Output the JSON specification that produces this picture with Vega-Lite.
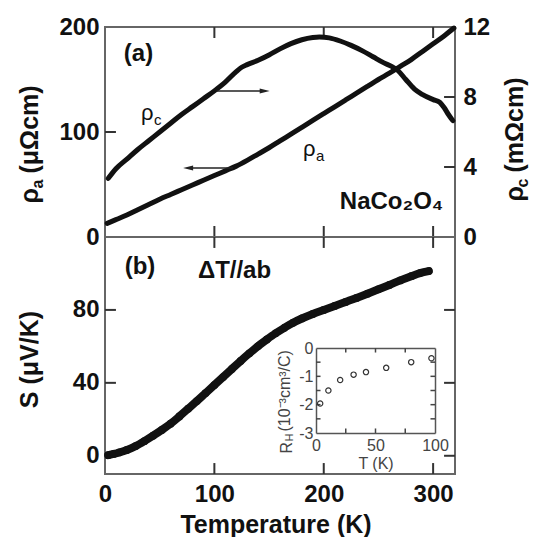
{
  "$schema": "https://vega.github.io/schema/vega-lite/v6.json",
  "background": "white",
  "padding": {"left": 15, "top": 14, "right": 0, "bottom": 0},
  "spacing": 0,
  "bounds": "flush",
  "datasets": {
    "rhoA": [
      {"T": 2, "rho_a": 13}, {"T": 10, "rho_a": 16.5}, {"T": 20, "rho_a": 21}, {"T": 30, "rho_a": 26},
      {"T": 40, "rho_a": 31}, {"T": 50, "rho_a": 36}, {"T": 60, "rho_a": 40.5}, {"T": 70, "rho_a": 45},
      {"T": 80, "rho_a": 49.5}, {"T": 90, "rho_a": 54}, {"T": 100, "rho_a": 58.5}, {"T": 110, "rho_a": 63},
      {"T": 120, "rho_a": 67.5}, {"T": 130, "rho_a": 73}, {"T": 140, "rho_a": 79}, {"T": 150, "rho_a": 85},
      {"T": 160, "rho_a": 91.5}, {"T": 170, "rho_a": 98}, {"T": 180, "rho_a": 104.5}, {"T": 190, "rho_a": 111},
      {"T": 200, "rho_a": 117.5}, {"T": 210, "rho_a": 124}, {"T": 220, "rho_a": 130.5}, {"T": 230, "rho_a": 137},
      {"T": 240, "rho_a": 143.5}, {"T": 250, "rho_a": 150}, {"T": 260, "rho_a": 156}, {"T": 270, "rho_a": 162.5},
      {"T": 280, "rho_a": 169}, {"T": 290, "rho_a": 176.5}, {"T": 300, "rho_a": 184}, {"T": 310, "rho_a": 191.5},
      {"T": 319, "rho_a": 199}
    ],
    "rhoC": [
      {"T": 3, "rho_c": 3.35}, {"T": 10, "rho_c": 3.9}, {"T": 20, "rho_c": 4.45}, {"T": 30, "rho_c": 5.0},
      {"T": 40, "rho_c": 5.5}, {"T": 50, "rho_c": 6.0}, {"T": 60, "rho_c": 6.5}, {"T": 70, "rho_c": 7.0},
      {"T": 80, "rho_c": 7.45}, {"T": 90, "rho_c": 7.9}, {"T": 100, "rho_c": 8.35}, {"T": 110, "rho_c": 8.85},
      {"T": 120, "rho_c": 9.45}, {"T": 125, "rho_c": 9.7}, {"T": 130, "rho_c": 9.85}, {"T": 140, "rho_c": 10.1},
      {"T": 150, "rho_c": 10.4}, {"T": 160, "rho_c": 10.75}, {"T": 170, "rho_c": 11.05}, {"T": 180, "rho_c": 11.27},
      {"T": 190, "rho_c": 11.4}, {"T": 196, "rho_c": 11.43}, {"T": 205, "rho_c": 11.38}, {"T": 215, "rho_c": 11.2},
      {"T": 225, "rho_c": 10.95}, {"T": 235, "rho_c": 10.65}, {"T": 245, "rho_c": 10.3}, {"T": 255, "rho_c": 9.95},
      {"T": 262, "rho_c": 9.75}, {"T": 268, "rho_c": 9.5}, {"T": 275, "rho_c": 9.0}, {"T": 283, "rho_c": 8.45},
      {"T": 290, "rho_c": 8.15}, {"T": 300, "rho_c": 7.85}, {"T": 306, "rho_c": 7.7}, {"T": 310, "rho_c": 7.4},
      {"T": 314, "rho_c": 7.0}, {"T": 318, "rho_c": 6.65}
    ],
    "seebeck": [
      {"T": 3, "S": 0.3}, {"T": 8, "S": 1.0}, {"T": 13, "S": 1.8}, {"T": 20, "S": 3.2}, {"T": 28, "S": 5.3},
      {"T": 36, "S": 8.0}, {"T": 44, "S": 11.0}, {"T": 52, "S": 14.2}, {"T": 60, "S": 17.6}, {"T": 68, "S": 21.6},
      {"T": 76, "S": 25.8}, {"T": 84, "S": 30.0}, {"T": 92, "S": 34.4}, {"T": 100, "S": 38.8}, {"T": 108, "S": 43.2},
      {"T": 116, "S": 47.6}, {"T": 124, "S": 52}, {"T": 132, "S": 56.2}, {"T": 140, "S": 60.2}, {"T": 148, "S": 63.8},
      {"T": 156, "S": 67.2}, {"T": 164, "S": 70.2}, {"T": 172, "S": 73}, {"T": 180, "S": 75.3}, {"T": 190, "S": 77.8},
      {"T": 200, "S": 80}, {"T": 210, "S": 82.2}, {"T": 220, "S": 84.4}, {"T": 230, "S": 86.6}, {"T": 240, "S": 88.9},
      {"T": 250, "S": 91.3}, {"T": 260, "S": 93.7}, {"T": 270, "S": 96.2}, {"T": 280, "S": 98.5}, {"T": 288, "S": 100.2},
      {"T": 296, "S": 101.3}
    ],
    "hall": [
      {"T": 3.5, "RH": -1.96}, {"T": 10.4, "RH": -1.5}, {"T": 20.3, "RH": -1.13}, {"T": 31.6, "RH": -0.94},
      {"T": 42, "RH": -0.85}, {"T": 59, "RH": -0.7}, {"T": 80, "RH": -0.5}, {"T": 97, "RH": -0.36}
    ],
    "arrows": [
      {"curve": "rho_c", "T0": 102, "T1": 146, "v": 139, "dir": "right"},
      {"curve": "rho_a", "T0": 117, "T1": 76, "v": 65.7, "dir": "left"}
    ],
    "curveLabels": [
      {"T": 33, "v": 111.9, "sym": "ρ", "sub": "c"},
      {"T": 181, "v": 77.6, "sym": "ρ", "sub": "a"}
    ],
    "notesA": [
      {"T": 30.6, "v": 167.6, "note": "(a)"},
      {"T": 262, "v": 26.2, "note": "NaCo₂O₄"}
    ],
    "notesB": [
      {"T": 32, "S": 103.6, "note": "(b)"},
      {"T": 118.4, "S": 101.4, "note": "ΔT//ab"}
    ],
    "tempTicks": [{"T": 100}, {"T": 200}, {"T": 300}],
    "rhoATicks": [{"v": 100}],
    "rhoCTicks": [{"v": 4}, {"v": 8}],
    "sTicks": [{"S": 0}, {"S": 40}, {"S": 80}],
    "insetTTicks": [{"T": 25}, {"T": 50}, {"T": 75}],
    "insetRTicks": [{"RH": -2.5}, {"RH": -2}, {"RH": -1.5}, {"RH": -1}, {"RH": -0.5}]
  },
  "vconcat": [
    {
      "width": 350,
      "height": 210,
      "resolve": {"scale": {"x": "independent", "y": "independent"}, "axis": {"x": "independent", "y": "independent"}},
      "layer": [
        {
          "data": {"name": "tempTicks"},
          "mark": {"type": "rule", "color": "#333", "strokeWidth": 2},
          "encoding": {
            "x": {"field": "T", "type": "quantitative", "scale": {"domain": [0, 320]}, "axis": null},
            "y": {"datum": 0, "type": "quantitative", "scale": {"domain": [0, 200]}, "axis": null},
            "y2": {"datum": 10.5}
          }
        },
        {
          "data": {"name": "tempTicks"},
          "mark": {"type": "rule", "color": "#333", "strokeWidth": 2},
          "encoding": {
            "x": {"field": "T", "type": "quantitative", "scale": {"domain": [0, 320]}, "axis": null},
            "y": {"datum": 200, "type": "quantitative", "scale": {"domain": [0, 200]}, "axis": null},
            "y2": {"datum": 189.5}
          }
        },
        {
          "data": {"name": "rhoATicks"},
          "mark": {"type": "rule", "color": "#333", "strokeWidth": 2},
          "encoding": {
            "x": {"datum": 0, "type": "quantitative", "scale": {"domain": [0, 320]}, "axis": null},
            "x2": {"datum": 10},
            "y": {"field": "v", "type": "quantitative", "scale": {"domain": [0, 200]}, "axis": null}
          }
        },
        {
          "data": {"name": "rhoCTicks"},
          "mark": {"type": "rule", "color": "#333", "strokeWidth": 2},
          "encoding": {
            "x": {"datum": 320, "type": "quantitative", "scale": {"domain": [0, 320]}, "axis": null},
            "x2": {"datum": 310},
            "y": {"field": "v", "type": "quantitative", "scale": {"domain": [0, 12]}, "axis": null}
          }
        },
        {
          "data": {"name": "rhoA"},
          "mark": {"type": "line", "color": "#111", "strokeWidth": 5, "interpolate": "monotone", "strokeCap": "round"},
          "encoding": {
            "x": {"field": "T", "type": "quantitative", "scale": {"domain": [0, 320]}, "axis": null},
            "y": {"field": "rho_a", "type": "quantitative", "scale": {"domain": [0, 200]},
                  "axis": {"orient": "left", "values": [0, 100, 200], "labelPadding": 6,
                           "title": "(μΩcm)", "titleAngle": -90, "titleAlign": "left", "titleBaseline": "alphabetic",
                           "titleX": -68, "titleY": 146}}
          }
        },
        {
          "data": {"name": "rhoC"},
          "mark": {"type": "line", "color": "#111", "strokeWidth": 5, "interpolate": "monotone", "strokeCap": "round"},
          "encoding": {
            "x": {"field": "T", "type": "quantitative", "scale": {"domain": [0, 320]}, "axis": null},
            "y": {"field": "rho_c", "type": "quantitative", "scale": {"domain": [0, 12]},
                  "axis": {"orient": "right", "values": [0, 4, 8, 12], "labelPadding": 8,
                           "title": "(mΩcm)", "titleAngle": -90, "titleAlign": "left", "titleBaseline": "alphabetic",
                           "titleX": 67, "titleY": 145}}
          }
        },
        {
          "data": {"name": "arrows"},
          "mark": {"type": "rule", "color": "#222", "strokeWidth": 1.5},
          "encoding": {
            "x": {"field": "T0", "type": "quantitative", "scale": {"domain": [0, 320]}, "axis": null},
            "x2": {"field": "T1"},
            "y": {"field": "v", "type": "quantitative", "scale": {"domain": [0, 200]},
                  "axis": {"orient": "left", "labels": false,
                           "title": "ρ", "titleAngle": -90, "titleAlign": "left", "titleBaseline": "alphabetic",
                           "titleX": -68, "titleY": 176}}
          }
        },
        {
          "data": {"name": "arrows"},
          "mark": {"type": "point", "filled": true, "color": "#222", "size": 100, "opacity": 1},
          "encoding": {
            "x": {"field": "T1", "type": "quantitative", "scale": {"domain": [0, 320]}, "axis": null},
            "y": {"field": "v", "type": "quantitative", "scale": {"domain": [0, 200]},
                  "axis": {"orient": "left", "labels": false,
                           "title": "a", "titleFontSize": 16, "titleAngle": -90, "titleAlign": "left", "titleBaseline": "alphabetic",
                           "titleX": -63, "titleY": 161}},
            "shape": {"field": "dir", "type": "nominal", "legend": null,
                      "scale": {"domain": ["right", "left"], "range": ["M-1,-0.5L1,0L-1,0.5Z", "M1,-0.5L-1,0L1,0.5Z"]}}
          }
        },
        {
          "data": {"name": "curveLabels"},
          "mark": {"type": "text", "font": "Liberation Sans", "fontSize": 22, "align": "left", "baseline": "alphabetic", "color": "#111"},
          "encoding": {
            "x": {"field": "T", "type": "quantitative", "scale": {"domain": [0, 320]}, "axis": null},
            "y": {"field": "v", "type": "quantitative", "scale": {"domain": [0, 200]},
                  "axis": {"orient": "right", "labels": false,
                           "title": "ρ", "titleAngle": -90, "titleAlign": "left", "titleBaseline": "alphabetic",
                           "titleX": 67, "titleY": 174}},
            "text": {"field": "sym"}
          }
        },
        {
          "data": {"name": "curveLabels"},
          "mark": {"type": "text", "font": "Liberation Sans", "fontSize": 15, "align": "left", "baseline": "alphabetic", "color": "#111", "dx": 13, "dy": 5},
          "encoding": {
            "x": {"field": "T", "type": "quantitative", "scale": {"domain": [0, 320]}, "axis": null},
            "y": {"field": "v", "type": "quantitative", "scale": {"domain": [0, 200]},
                  "axis": {"orient": "right", "labels": false,
                           "title": "c", "titleFontSize": 16, "titleAngle": -90, "titleAlign": "left", "titleBaseline": "alphabetic",
                           "titleX": 72, "titleY": 160}},
            "text": {"field": "sub"}
          }
        },
        {
          "data": {"name": "notesA"},
          "mark": {"type": "text", "font": "Liberation Sans", "fontSize": 24, "fontWeight": "bold", "align": "center", "baseline": "alphabetic", "color": "#111"},
          "encoding": {
            "x": {"field": "T", "type": "quantitative", "scale": {"domain": [0, 320]}, "axis": null},
            "y": {"field": "v", "type": "quantitative", "scale": {"domain": [0, 200]}, "axis": null},
            "text": {"field": "note"}
          }
        }
      ]
    },
    {
      "width": 350,
      "height": 237,
      "resolve": {"scale": {"x": "independent", "y": "independent"}, "axis": {"x": "independent", "y": "independent"}},
      "layer": [
        {
          "data": {"name": "tempTicks"},
          "mark": {"type": "rule", "color": "#333", "strokeWidth": 2},
          "encoding": {
            "x": {"field": "T", "type": "quantitative", "scale": {"domain": [0, 320]}, "axis": null},
            "y": {"datum": -10, "type": "quantitative", "scale": {"domain": [-10, 120]}, "axis": null},
            "y2": {"datum": -4}
          }
        },
        {
          "data": {"name": "tempTicks"},
          "mark": {"type": "rule", "color": "#333", "strokeWidth": 2},
          "encoding": {
            "x": {"field": "T", "type": "quantitative", "scale": {"domain": [0, 320]}, "axis": null},
            "y": {"datum": 120, "type": "quantitative", "scale": {"domain": [-10, 120]}, "axis": null},
            "y2": {"datum": 114}
          }
        },
        {
          "data": {"name": "sTicks"},
          "mark": {"type": "rule", "color": "#333", "strokeWidth": 2},
          "encoding": {
            "x": {"datum": 0, "type": "quantitative", "scale": {"domain": [0, 320]}, "axis": null},
            "x2": {"datum": 10},
            "y": {"field": "S", "type": "quantitative", "scale": {"domain": [-10, 120]}, "axis": null}
          }
        },
        {
          "data": {"name": "sTicks"},
          "mark": {"type": "rule", "color": "#333", "strokeWidth": 2},
          "encoding": {
            "x": {"datum": 320, "type": "quantitative", "scale": {"domain": [0, 320]}, "axis": null},
            "x2": {"datum": 310},
            "y": {"field": "S", "type": "quantitative", "scale": {"domain": [-10, 120]}, "axis": null}
          }
        },
        {
          "data": {"name": "seebeck"},
          "mark": {"type": "line", "color": "#111", "strokeWidth": 8, "interpolate": "monotone", "strokeCap": "round"},
          "encoding": {
            "x": {"field": "T", "type": "quantitative", "scale": {"domain": [0, 320]},
                  "axis": {"orient": "bottom", "values": [0, 100, 200, 300], "labelFlush": false, "labelPadding": 8,
                           "title": "Temperature (K)", "titleAlign": "center", "titleBaseline": "alphabetic",
                           "titleX": 170.5, "titleY": 58}},
            "y": {"field": "S", "type": "quantitative", "scale": {"domain": [-10, 120]},
                  "axis": {"orient": "left", "values": [0, 40, 80], "labelPadding": 6,
                           "title": "S (μV/K)", "titleAngle": -90, "titleAlign": "center", "titleBaseline": "alphabetic",
                           "titleX": -68, "titleY": 122}}
          }
        },
        {
          "data": {"name": "seebeck"},
          "mark": {"type": "circle", "color": "#111", "size": 60, "opacity": 1},
          "encoding": {
            "x": {"field": "T", "type": "quantitative", "scale": {"domain": [0, 320]}, "axis": null},
            "y": {"field": "S", "type": "quantitative", "scale": {"domain": [-10, 120]}, "axis": null}
          }
        },
        {
          "data": {"name": "insetTTicks"},
          "mark": {"type": "rule", "color": "#444", "strokeWidth": 1.5},
          "encoding": {
            "x": {"field": "T", "type": "quantitative", "scale": {"domain": [0, 100], "range": [211, 330]}, "axis": null},
            "y": {"datum": -3, "type": "quantitative", "scale": {"domain": [-3, 0], "range": [196, 111]}, "axis": null},
            "y2": {"datum": -2.84}
          }
        },
        {
          "data": {"name": "insetTTicks"},
          "mark": {"type": "rule", "color": "#444", "strokeWidth": 1.5},
          "encoding": {
            "x": {"field": "T", "type": "quantitative", "scale": {"domain": [0, 100], "range": [211, 330]}, "axis": null},
            "y": {"datum": 0, "type": "quantitative", "scale": {"domain": [-3, 0], "range": [196, 111]}, "axis": null},
            "y2": {"datum": -0.16}
          }
        },
        {
          "data": {"name": "insetRTicks"},
          "mark": {"type": "rule", "color": "#444", "strokeWidth": 1.5},
          "encoding": {
            "x": {"datum": 0, "type": "quantitative", "scale": {"domain": [0, 100], "range": [211, 330]}, "axis": null},
            "x2": {"datum": 3.8},
            "y": {"field": "RH", "type": "quantitative", "scale": {"domain": [-3, 0], "range": [196, 111]}, "axis": null}
          }
        },
        {
          "data": {"name": "insetRTicks"},
          "mark": {"type": "rule", "color": "#444", "strokeWidth": 1.5},
          "encoding": {
            "x": {"datum": 100, "type": "quantitative", "scale": {"domain": [0, 100], "range": [211, 330]}, "axis": null},
            "x2": {"datum": 96.2},
            "y": {"field": "RH", "type": "quantitative", "scale": {"domain": [-3, 0], "range": [196, 111]}, "axis": null}
          }
        },
        {
          "data": {"name": "hall"},
          "mark": {"type": "point", "filled": false, "color": "#333", "size": 28, "strokeWidth": 1.2, "opacity": 1},
          "encoding": {
            "x": {"field": "T", "type": "quantitative", "scale": {"domain": [0, 100], "range": [211, 330]},
                  "axis": {"orient": "bottom", "offset": -41, "domain": true, "domainColor": "#555", "domainWidth": 1.5,
                           "values": [0, 50, 100], "labelFlush": false,
                           "labelFontSize": 16, "labelFontWeight": "normal", "labelColor": "#444", "labelPadding": 4,
                           "title": "T (K)", "titleFontSize": 16, "titleFontWeight": "normal", "titleColor": "#444",
                           "titleAlign": "center", "titleBaseline": "alphabetic", "titleX": 270.5, "titleY": 35}},
            "y": {"field": "RH", "type": "quantitative", "scale": {"domain": [-3, 0], "range": [196, 111]},
                  "axis": {"orient": "left", "offset": -211, "domain": true, "domainColor": "#555", "domainWidth": 1.5,
                           "values": [-3, -2, -1, 0],
                           "labelExpr": "'' + datum.value",
                           "labelFontSize": 16, "labelFontWeight": "normal", "labelColor": "#444", "labelPadding": 3,
                           "title": "(10⁻³cm³/C)", "titleFontSize": 16, "titleFontWeight": "normal", "titleColor": "#444",
                           "titleAngle": -90, "titleAlign": "left", "titleBaseline": "alphabetic", "titleX": -27, "titleY": 194}}
          }
        },
        {
          "data": {"name": "hall"},
          "mark": {"type": "point", "opacity": 0},
          "encoding": {
            "x": {"field": "T", "type": "quantitative", "scale": {"domain": [0, 100], "range": [211, 330]},
                  "axis": {"orient": "top", "offset": -111, "domain": true, "domainColor": "#555", "domainWidth": 1.5,
                           "labels": false, "title": null}},
            "y": {"field": "RH", "type": "quantitative", "scale": {"domain": [-3, 0], "range": [196, 111]},
                  "axis": {"orient": "right", "offset": -20, "domain": true, "domainColor": "#555", "domainWidth": 1.5,
                           "labels": false, "title": null}}
          }
        },
        {
          "data": {"name": "notesB"},
          "mark": {"type": "text", "font": "Liberation Sans", "fontSize": 24, "fontWeight": "bold", "align": "center", "baseline": "middle", "color": "#111"},
          "encoding": {
            "x": {"field": "T", "type": "quantitative", "scale": {"domain": [0, 320]},
                  "axis": {"orient": "bottom", "labels": false,
                           "title": "H", "titleFontSize": 11, "titleFontWeight": "normal", "titleColor": "#444",
                           "titleAngle": -90, "titleAlign": "left", "titleBaseline": "alphabetic", "titleX": 187, "titleY": -33}},
            "y": {"field": "S", "type": "quantitative", "scale": {"domain": [-10, 120]},
                  "axis": {"orient": "left", "labels": false,
                           "title": "R", "titleFontSize": 16, "titleFontWeight": "normal", "titleColor": "#444",
                           "titleAngle": -90, "titleAlign": "left", "titleBaseline": "alphabetic", "titleX": 186, "titleY": 216}},
            "text": {"field": "note"}
          }
        }
      ]
    }
  ],
  "config": {
    "view": {"stroke": "#666", "strokeWidth": 2},
    "axis": {
      "domain": false, "grid": false, "ticks": false,
      "labelFont": "Liberation Sans", "labelFontSize": 24, "labelFontWeight": "bold", "labelColor": "#111",
      "labelOverlap": false,
      "titleFont": "Liberation Sans", "titleFontSize": 25, "titleFontWeight": "bold", "titleColor": "#111"
    },
    "text": {"font": "Liberation Sans"}
  }
}
